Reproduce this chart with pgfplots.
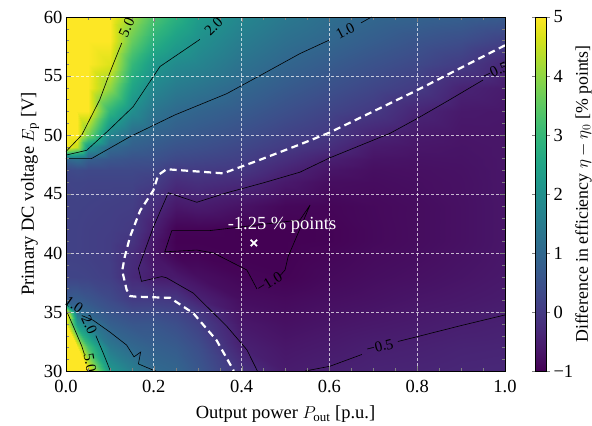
\documentclass[border=0pt]{standalone}
\usepackage{fontspec}
\setmainfont{Liberation Serif}
\usepackage{pgfplots}
\pgfplotsset{compat=1.18}
\newcommand{\mainfs}{\fontsize{18.5bp}{22bp}\selectfont}
\newcommand{\cbfs}{\fontsize{17.8bp}{21bp}\selectfont}
\newcommand{\clfs}{\fontsize{15bp}{18bp}\selectfont}
\begin{document}
\begin{tikzpicture}
\path[use as bounding box] (-66bp,-55bp) rectangle (526bp,371bp);
\begin{axis}[
  at={(0,0)}, anchor=south west,
  width=439bp, height=354bp, scale only axis,
  xmin=0, xmax=1, ymin=30, ymax=60,
  xtick={0,0.2,0.4,0.6,0.8,1}, xticklabels={0.0,0.2,0.4,0.6,0.8,1.0},
  ytick={30,35,40,45,50,55,60}, yticklabels={30,35,40,45,50,55,60},
  minor x tick num=3, minor y tick num=4,
  tick align=inside, tick pos=both,
  major tick length=5bp, minor tick length=2.8bp,
  grid=major,
  major grid style={white, opacity=0.7, dash pattern=on 3bp off 2bp, line width=0.7bp},
  axis on top,
  colormap name=viridis,
  point meta min=-1, point meta max=5,
  xlabel={Output power $P_\mathrm{out}$ [p.u.]},
  ylabel={Primary DC voltage $E_\mathrm{p}$ [V]},
  tick label style={font=\mainfs}, label style={font=\mainfs},
  xticklabel style={yshift=-6bp},
  xlabel style={yshift=-6bp},
  ylabel style={yshift=-2bp},
  colorbar,
  colorbar style={
    at={(parent axis.north east)}, anchor=north west, xshift=22bp,
    width=11bp,
    ytick={-1,0,1,2,3,4,5}, yticklabels={−1,0,1,2,3,4,5},
    yticklabel style={font=\mainfs},
    tick align=outside, major tick length=3.5bp,
    ylabel={Difference in efficiency $\eta-\eta_0$ [\% points]},
    every axis y label/.style={at={([xshift=37bp]rel axis cs:1,0.5)}, anchor=center, rotate=90, font=\cbfs},
  },
]
\addplot[surf, shader=interp, mesh/ordering=y varies, point meta=explicit] coordinates {
(0,30)[12] (0,32)[11] (0,34)[9] (0,35)[6] (0,36)[0.7] (0,38)[0.22] (0,40)[0.16] (0,41)[0.16] (0,42)[0.16] (0,44)[0.17] (0,46)[0.2] (0,47)[0.3] (0,48)[1.0] (0,49)[6] (0,50)[8] (0,52)[9] (0,54)[10] (0,56)[11] (0,58)[12] (0,60)[12]

(0.025,30)[8] (0.025,32)[6] (0.025,34)[2.3] (0.025,35)[1.15] (0.025,36)[0.75] (0.025,38)[0.22] (0.025,40)[0.15] (0.025,41)[0.15] (0.025,42)[0.15] (0.025,44)[0.17] (0.025,46)[0.22] (0.025,47)[0.35] (0.025,48)[1.2] (0.025,49)[4.5] (0.025,50)[5.6] (0.025,52)[7] (0.025,54)[8] (0.025,56)[9] (0.025,58)[9.5] (0.025,60)[10]

(0.05,30)[5.0] (0.05,32)[3.2] (0.05,34)[1.5] (0.05,35)[0.9] (0.05,36)[0.6] (0.05,38)[0.2] (0.05,40)[0.12] (0.05,41)[0.12] (0.05,42)[0.12] (0.05,44)[0.15] (0.05,46)[0.2] (0.05,47)[0.3] (0.05,48)[0.8] (0.05,49)[2.1] (0.05,50)[3.8] (0.05,52)[5.2] (0.05,54)[6.0] (0.05,56)[7] (0.05,58)[8] (0.05,60)[9]

(0.1,30)[2.2] (0.1,32)[1.4] (0.1,34)[0.8] (0.1,35)[0.55] (0.1,36)[0.35] (0.1,38)[0.1] (0.1,40)[0.06] (0.1,41)[0.06] (0.1,42)[0.08] (0.1,44)[0.12] (0.1,46)[0.2] (0.1,47)[0.3] (0.1,48)[0.6] (0.1,49)[1.05] (0.1,50)[1.7] (0.1,52)[2.9] (0.1,54)[4.0] (0.1,56)[4.7] (0.1,58)[5.2] (0.1,60)[5.6]

(0.15,30)[1.6] (0.15,32)[1.0] (0.15,34)[0.6] (0.15,35)[0.35] (0.15,36)[0.05] (0.15,38)[-0.3] (0.15,40)[-0.25] (0.15,41)[-0.1] (0.15,42)[0.0] (0.15,44)[0.08] (0.15,46)[0.2] (0.15,47)[0.3] (0.15,48)[0.5] (0.15,49)[0.8] (0.15,50)[1.05] (0.15,52)[1.95] (0.15,54)[2.5] (0.15,56)[3.0] (0.15,58)[3.6] (0.15,60)[4.1]

(0.2,30)[1.05] (0.2,32)[0.82] (0.2,34)[0.58] (0.2,35)[0.35] (0.2,36)[0.05] (0.2,38)[-0.55] (0.2,40)[-0.7] (0.2,41)[-0.65] (0.2,42)[-0.52] (0.2,44)[-0.25] (0.2,46)[0.08] (0.2,47)[0.27] (0.2,48)[0.47] (0.2,49)[0.68] (0.2,50)[0.88] (0.2,52)[1.3] (0.2,54)[1.75] (0.2,56)[2.2] (0.2,58)[2.8] (0.2,60)[3.3]

(0.25,30)[0.95] (0.25,32)[0.7] (0.25,34)[0.42] (0.25,35)[0.22] (0.25,36)[-0.03] (0.25,38)[-0.6] (0.25,40)[-0.98] (0.25,41)[-1.04] (0.25,42)[-0.96] (0.25,44)[-0.62] (0.25,46)[-0.25] (0.25,47)[0.0] (0.25,48)[0.3] (0.25,49)[0.52] (0.25,50)[0.72] (0.25,52)[1.05] (0.25,54)[1.45] (0.25,56)[1.85] (0.25,58)[2.35] (0.25,60)[2.8]

(0.3,30)[0.62] (0.3,32)[0.42] (0.3,34)[0.15] (0.3,35)[-0.05] (0.3,36)[-0.42] (0.3,38)[-0.78] (0.3,40)[-0.98] (0.3,41)[-1.08] (0.3,42)[-0.95] (0.3,44)[-0.55] (0.3,46)[-0.18] (0.3,47)[0.03] (0.3,48)[0.25] (0.3,49)[0.45] (0.3,50)[0.62] (0.3,52)[0.92] (0.3,54)[1.3] (0.3,56)[1.7] (0.3,58)[2.0] (0.3,60)[2.3]

(0.4,30)[-0.15] (0.4,32)[-0.47] (0.4,34)[-0.63] (0.4,35)[-0.72] (0.4,36)[-0.8] (0.4,38)[-0.93] (0.4,40)[-1.15] (0.4,41)[-1.25] (0.4,42)[-1.03] (0.4,44)[-0.72] (0.4,46)[-0.3] (0.4,47)[-0.05] (0.4,48)[0.12] (0.4,49)[0.27] (0.4,50)[0.42] (0.4,52)[0.7] (0.4,54)[0.97] (0.4,56)[1.25] (0.4,58)[1.5] (0.4,60)[1.75]

(0.5,30)[-0.56] (0.5,32)[-0.65] (0.5,34)[-0.75] (0.5,35)[-0.8] (0.5,36)[-0.85] (0.5,38)[-0.97] (0.5,40)[-1.12] (0.5,41)[-1.15] (0.5,42)[-1.08] (0.5,44)[-0.9] (0.5,46)[-0.6] (0.5,47)[-0.4] (0.5,48)[-0.2] (0.5,49)[0.03] (0.5,50)[0.18] (0.5,52)[0.45] (0.5,54)[0.7] (0.5,56)[0.95] (0.5,58)[1.18] (0.5,60)[1.4]

(0.6,30)[-0.48] (0.6,32)[-0.58] (0.6,34)[-0.68] (0.6,35)[-0.73] (0.6,36)[-0.78] (0.6,38)[-0.87] (0.6,40)[-0.93] (0.6,41)[-0.97] (0.6,42)[-0.97] (0.6,44)[-0.93] (0.6,46)[-0.8] (0.6,47)[-0.68] (0.6,48)[-0.5] (0.6,49)[-0.22] (0.6,50)[-0.02] (0.6,52)[0.22] (0.6,54)[0.47] (0.6,56)[0.72] (0.6,58)[0.97] (0.6,60)[1.15]

(0.7,30)[-0.42] (0.7,32)[-0.5] (0.7,34)[-0.62] (0.7,35)[-0.68] (0.7,36)[-0.73] (0.7,38)[-0.8] (0.7,40)[-0.85] (0.7,41)[-0.88] (0.7,42)[-0.88] (0.7,44)[-0.87] (0.7,46)[-0.82] (0.7,47)[-0.78] (0.7,48)[-0.7] (0.7,49)[-0.58] (0.7,50)[-0.42] (0.7,52)[0.0] (0.7,54)[0.25] (0.7,56)[0.5] (0.7,58)[0.75] (0.7,60)[0.98]

(0.8,30)[-0.4] (0.8,32)[-0.47] (0.8,34)[-0.57] (0.8,35)[-0.62] (0.8,36)[-0.67] (0.8,38)[-0.75] (0.8,40)[-0.8] (0.8,41)[-0.82] (0.8,42)[-0.82] (0.8,44)[-0.82] (0.8,46)[-0.78] (0.8,47)[-0.76] (0.8,48)[-0.72] (0.8,49)[-0.66] (0.8,50)[-0.6] (0.8,52)[-0.38] (0.8,54)[0.03] (0.8,56)[0.3] (0.8,58)[0.55] (0.8,60)[0.88]

(0.9,30)[-0.36] (0.9,32)[-0.42] (0.9,34)[-0.51] (0.9,35)[-0.57] (0.9,36)[-0.62] (0.9,38)[-0.69] (0.9,40)[-0.73] (0.9,41)[-0.75] (0.9,42)[-0.75] (0.9,44)[-0.75] (0.9,46)[-0.74] (0.9,47)[-0.73] (0.9,48)[-0.71] (0.9,49)[-0.69] (0.9,50)[-0.67] (0.9,52)[-0.6] (0.9,54)[-0.42] (0.9,56)[0.05] (0.9,58)[0.4] (0.9,60)[0.8]

(1,30)[-0.34] (1,32)[-0.4] (1,34)[-0.47] (1,35)[-0.51] (1,36)[-0.56] (1,38)[-0.62] (1,40)[-0.65] (1,41)[-0.66] (1,42)[-0.66] (1,44)[-0.66] (1,46)[-0.66] (1,47)[-0.66] (1,48)[-0.66] (1,49)[-0.66] (1,50)[-0.66] (1,52)[-0.63] (1,54)[-0.56] (1,56)[-0.37] (1,58)[0.15] (1,60)[0.7]
};
% contour lines (black)
\addplot[black, line width=0.6bp] coordinates {(0,48.6) (0.036,50) (0.077,53) (0.10,55.3) (0.127,57.8)};
\addplot[black, line width=0.6bp] coordinates {(0,48.3) (0.047,48.7) (0.1,50.5) (0.153,52.4) (0.214,55.8) (0.305,58.1)};
\addplot[black, line width=0.6bp] coordinates {(0,48.0) (0.058,48.0) (0.146,49.86) (0.248,51.7) (0.366,53.5) (0.45,55.2) (0.533,56.9) (0.6,58.05)};
\addplot[black, line width=0.6bp] coordinates {(0.672,59.5) (0.696,60)};
\addplot[black, line width=0.6bp] coordinates {(0.95,54.66) (0.87,52.9) (0.8,51.4) (0.738,50.14) (0.6,48.05) (0.533,46.85) (0.45,45.95) (0.366,45.1) (0.298,44.3) (0.233,45.1) (0.199,42.2) (0.165,38.7) (0.172,37.6) (0.218,38.0) (0.229,37.9) (0.29,36.6) (0.366,33.8) (0.412,31.8) (0.436,30)};
\addplot[black, line width=0.6bp] coordinates {(0.435,36.95) (0.412,38.56) (0.336,40.0) (0.298,40.25) (0.225,40.1) (0.241,41.9) (0.328,41.9) (0.533,42.8) (0.556,44.07) (0.506,39.7) (0.499,38.56) (0.488,38.1)};
\addplot[black, line width=0.6bp] coordinates {(0.545,30) (0.601,30.4) (0.674,31.4)};
\addplot[black, line width=0.6bp] coordinates {(0.756,32.5) (0.799,32.9) (0.9,33.85) (1.0,34.75)};
\addplot[black, line width=0.6bp] coordinates {(0.036,34.7) (0.062,34.3) (0.1,33.3) (0.138,32.2) (0.155,31.2) (0.17,31.6) (0.165,30.6) (0.2,30.05) (0.205,30)};
\addplot[black, line width=0.6bp] coordinates {(0.068,33.0) (0.085,31.5) (0.1,30.1) (0.102,30)};
\addplot[black, line width=0.6bp] coordinates {(0,35.2) (0.02,33.5) (0.036,32.1) (0.042,31.4)};
% zero contour (white dashed)
\addplot[white, line width=2.2bp, dash pattern=on 7bp off 4.5bp] coordinates {(1.0,57.6) (0.8,53.8) (0.6,50.2) (0.533,49.2) (0.442,47.9) (0.358,46.75) (0.229,47.1) (0.21,46.6) (0.199,45.3) (0.169,43.6) (0.146,41.4) (0.134,39.7) (0.128,38.5) (0.138,36.9) (0.146,36.35) (0.159,36.3) (0.237,36.2) (0.29,34.9) (0.343,32.6) (0.381,30.1) (0.382,30)};
% minimum marker
\addplot[only marks, mark=x, mark size=4.5bp, white, line width=1.8bp] coordinates {(0.428,40.85)};
\node[white, font=\mainfs] at (axis cs:0.492,42.35) {-1.25 \% points};
% contour labels
\node[font=\clfs, rotate=65] at (axis cs:0.138,59.1) {5.0};
\node[font=\clfs, rotate=45] at (axis cs:0.336,59.2) {2.0};
\node[font=\clfs, rotate=27] at (axis cs:0.636,58.85) {1.0};
\node[font=\clfs, rotate=25] at (axis cs:0.978,55.4) {−0.5};
\node[font=\clfs, rotate=32] at (axis cs:0.463,37.5) {−1.0};
\node[font=\clfs, rotate=14] at (axis cs:0.715,32.05) {−0.5};
\node[font=\clfs, rotate=-35] at (axis cs:0.018,35.6) {1.0};
\node[font=\clfs, rotate=-65] at (axis cs:0.053,33.9) {2.0};
\node[font=\clfs, rotate=-80] at (axis cs:0.055,30.7) {5.0};
\end{axis}
\end{tikzpicture}
\end{document}
